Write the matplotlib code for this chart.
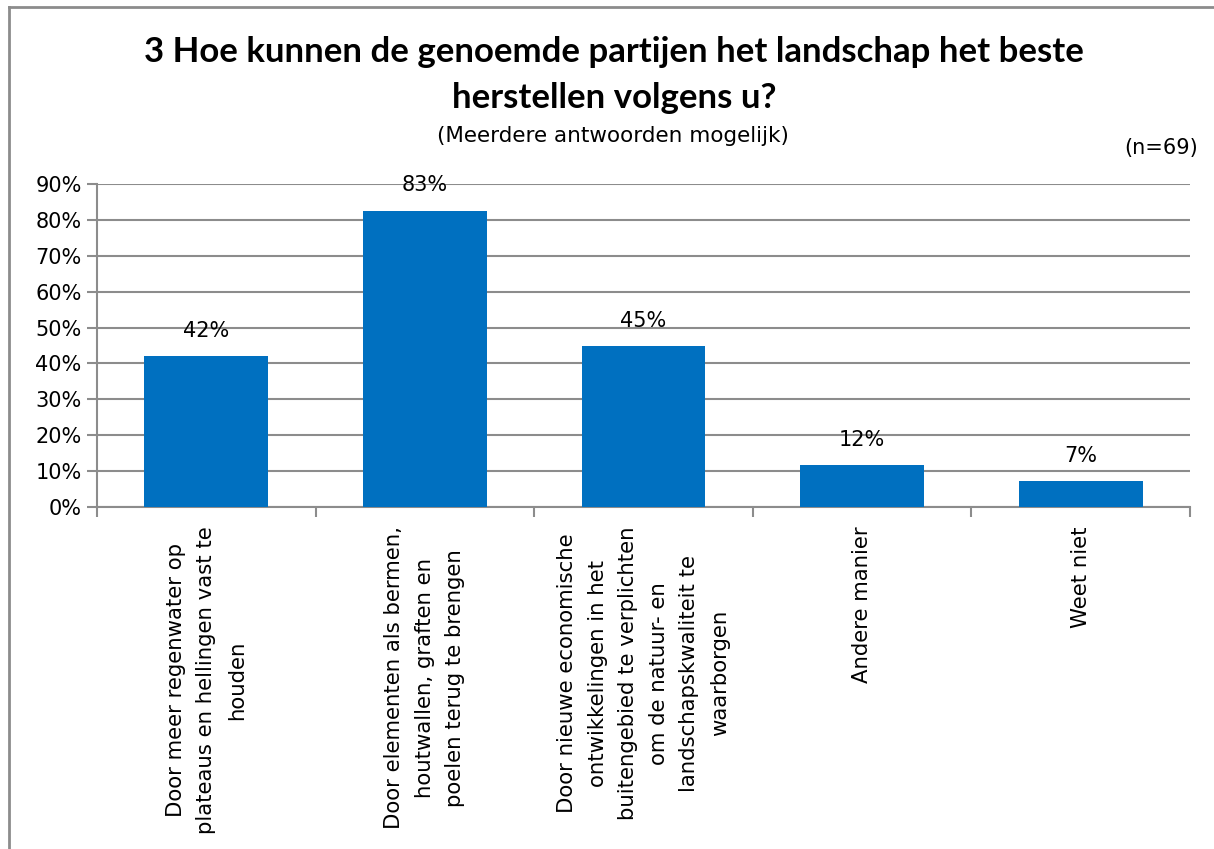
import matplotlib
matplotlib.use("Agg")
import matplotlib.pyplot as plt
from matplotlib.lines import Line2D
from matplotlib.ticker import PercentFormatter, FixedLocator

plt.rcParams['font.family'] = ['DejaVu Sans']

categories = [
    "Door meer regenwater op\nplateaus en hellingen vast te\nhouden",
    "Door elementen als bermen,\nhoutwallen, graften en\npoelen terug te brengen",
    "Door nieuwe economische\nontwikkelingen in het\nbuitengebied te verplichten\nom de natuur- en\nlandschapskwaliteit te\nwaarborgen",
    "Andere manier",
    "Weet niet",
]
values = [0.420, 0.826, 0.449, 0.116, 0.072]
value_labels = ["42%", "83%", "45%", "12%", "7%"]
yticks = [0, 0.1, 0.2, 0.3, 0.4, 0.5, 0.6, 0.7, 0.8, 0.9]

W, H = 1214, 849
fig = plt.figure(figsize=(W / 100, H / 100), dpi=100)
ax = fig.add_axes([97 / W, 1 - 507 / H, (1190 - 97) / W, (507 - 184) / H])

x = list(range(len(categories)))
bars = ax.bar(x, values, width=0.567, color="#0070C0", zorder=3)
for xi, v, lab in zip(x, values, value_labels):
    ax.annotate(lab, (xi, v), xytext=(0, 11), textcoords="offset points",
                ha="center", va="bottom", fontsize=15, color="#000000")

ax.set_xlim(-0.5, len(categories) - 0.5)
ax.set_ylim(0, 0.9)
ax.set_yticks(yticks)
ax.yaxis.set_major_formatter(PercentFormatter(1.0, decimals=0))
ax.grid(axis="y", color="#8c8c8c", linewidth=1.5, zorder=0)
ax.set_axisbelow(True)

ax.set_xticks(x)
ax.set_xticklabels(categories, rotation=90, ha="center", va="top",
                   multialignment="center", fontsize=15.3, linespacing=1.66)
ax.xaxis.set_minor_locator(FixedLocator([i - 0.5 for i in range(len(categories) + 1)]))
ax.tick_params(axis="x", which="major", length=0, pad=14)
ax.tick_params(axis="x", which="minor", length=7, width=1.5, color="#8c8c8c", direction="out")
ax.tick_params(axis="y", length=7, width=1.5, color="#8c8c8c", labelsize=15, pad=4)

for s in ["top", "right"]:
    ax.spines[s].set_visible(False)
for s in ["left", "bottom"]:
    ax.spines[s].set_color("#8c8c8c")
    ax.spines[s].set_linewidth(1.5)

fig.text(614 / W, 1 - 75 / H, "3 Hoe kunnen de genoemde partijen het landschap het beste\nherstellen volgens u?",
         ha="center", va="center", fontsize=25, fontweight="bold", linespacing=1.5,
         family=["Lato", "DejaVu Sans"])
fig.text(613 / W, 1 - 136 / H, "(Meerdere antwoorden mogelijk)", ha="center", va="center", fontsize=15.5)
fig.text(1198 / W, 1 - 148 / H, "(n=69)", ha="right", va="center", fontsize=15)

# chart frame (left and top edges visible)
fig.add_artist(Line2D([9 / W, 9 / W], [0, 1 - 7 / H], transform=fig.transFigure, color="#8c8c8c", linewidth=2))
fig.add_artist(Line2D([9 / W, 1], [1 - 7 / H, 1 - 7 / H], transform=fig.transFigure, color="#8c8c8c", linewidth=2))

fig.savefig("out.png", dpi=100, facecolor="white")
